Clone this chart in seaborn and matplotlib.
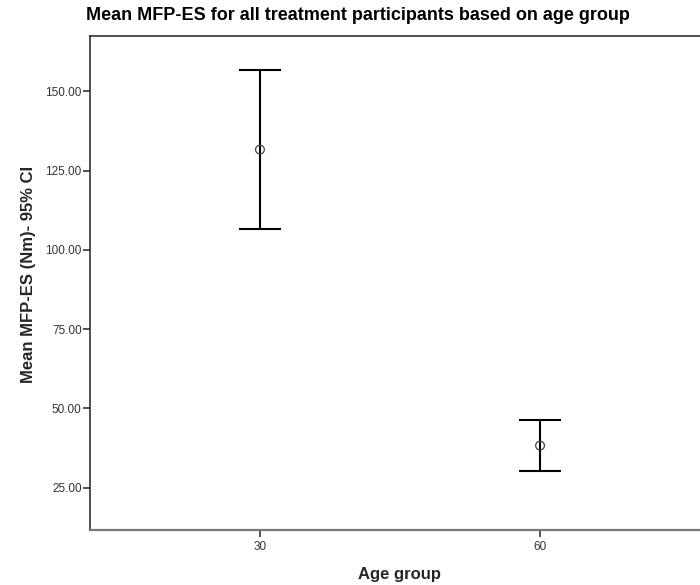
import matplotlib
matplotlib.use("Agg")
import matplotlib.pyplot as plt
import seaborn as sns
import pandas as pd

age_groups = [30, 60]
means = [131.6, 38.3]
ci_lower = [106.7, 30.2]
ci_upper = [156.7, 46.4]
y_ticks = [25, 50, 75, 100, 125, 150]

sns.set_theme(style="white")
plt.rcParams['font.family'] = ['Liberation Sans', 'DejaVu Sans']

df = pd.DataFrame({"age": age_groups, "mean": means, "lo": ci_lower, "hi": ci_upper})

fig = plt.figure(figsize=(7, 5.85), dpi=100)
ax = fig.add_axes([90/700, 55/585, 620/700, 494/585])

yerr = [df["mean"] - df["lo"], df["hi"] - df["mean"]]
ax.errorbar(df["age"], df["mean"], yerr=yerr, fmt="none", ecolor="black",
            elinewidth=1.5, capsize=15, capthick=1.5, zorder=2)
sns.scatterplot(data=df, x="age", y="mean", ax=ax, marker="o", s=40,
                facecolor="none", edgecolor="#444444", linewidth=0.9, zorder=3)

ax.set_xlim(11.8, 78.2)
ax.set_ylim(11.7, 167.4)
ax.set_xticks(age_groups)
ax.set_xticklabels([str(a) for a in age_groups])
ax.set_yticks(y_ticks)
ax.set_yticklabels([f"{v:.2f}" for v in y_ticks])
ax.tick_params(axis="both", which="major", direction="out", length=5, width=1.2,
               color="#333333", labelsize=8.5, labelcolor="#333333", pad=1,
               bottom=True, left=True)
ax.tick_params(axis="x", pad=3)

for s in ["left", "top"]:
    ax.spines[s].set_color("#222222")
    ax.spines[s].set_linewidth(1.1)
ax.spines["bottom"].set_color("#777777")
ax.spines["bottom"].set_linewidth(1.6)
ax.spines["right"].set_visible(False)

ax.set_xlabel("Age group", fontsize=12, fontweight="bold", labelpad=10)
ax.set_ylabel("Mean MFP-ES (Nm)- 95% CI", fontsize=12, fontweight="bold")
ax.yaxis.set_label_coords(-0.087, 0.518)
fig.text(358/700, 1 - 16/585, "Mean MFP-ES for all treatment participants based on age group",
         ha="center", va="center", fontsize=13, fontweight="bold", color="black")

fig.savefig("out.png", dpi=100)
